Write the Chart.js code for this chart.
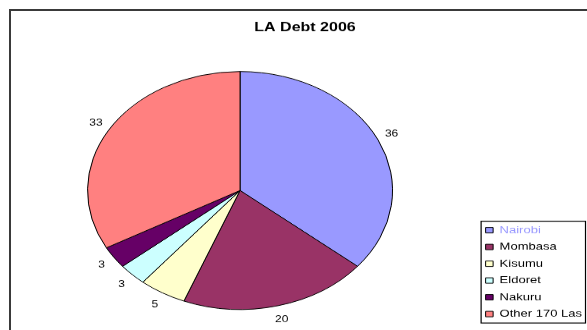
<!DOCTYPE html>
<html>
<head>
<meta charset="utf-8">
<script src="https://cdn.jsdelivr.net/npm/chart.js@4.4.1/dist/chart.umd.min.js"></script>
<style>
  html, body { margin: 0; padding: 0; background: #fff; overflow: hidden; width: 587px; height: 330px; }
  #frame { position: absolute; left: 9px; top: 9px; width: 700px; height: 400px; border: 2px solid #3a3a3a; }
  #wrap { position: absolute; left: 0; top: 0; transform: scaleY(0.78); transform-origin: 0 0; }
</style>
</head>
<body>
<div id="frame"></div>
<div id="wrap"><canvas id="chart" width="607" height="423"></canvas></div>
<script>
const categories = ['Nairobi', 'Mombasa', 'Kisumu', 'Eldoret', 'Nakuru', 'Other 170 Las'];
const debtShares = [36, 20, 5, 3, 3, 33];
const sliceColors = ['#9999FF', '#993366', '#FFFFCC', '#CCFFFF', '#660066', '#FF8080'];

const FONT = '"Liberation Sans", Arial, sans-serif';
Chart.defaults.font.family = FONT;

// value labels just outside each slice
const sliceLabels = {
    id: 'sliceLabels',
    afterDatasetsDraw(chart) {
        const ctx = chart.ctx;
        const meta = chart.getDatasetMeta(0);
        ctx.save();
        ctx.font = '12px ' + FONT;
        ctx.fillStyle = '#000';
        ctx.textAlign = 'center';
        ctx.textBaseline = 'middle';
        meta.data.forEach((arc, i) => {
            const p = arc.getProps(['x', 'y', 'startAngle', 'endAngle', 'outerRadius'], true);
            const mid = (p.startAngle + p.endAngle) / 2;
            const lx = p.x + Math.cos(mid) * (p.outerRadius + 15);
            const ly = p.y + Math.sin(mid) * (p.outerRadius + 18);
            ctx.fillText(String(debtShares[i]), lx, ly);
        });
        ctx.restore();
    }
};

// thin box round the legend entries
const legendFrame = {
    id: 'legendFrame',
    afterDraw(chart) {
        const boxes = chart.legend.legendHitBoxes;
        if (!boxes || !boxes.length) return;
        const first = boxes[0];
        const last = boxes[boxes.length - 1];
        const widest = Math.max(...boxes.map(b => b.width));
        const ctx = chart.ctx;
        ctx.save();
        ctx.strokeStyle = '#000';
        ctx.lineWidth = 1.2;
        ctx.strokeRect(first.left - 4.5, first.top - 5, widest + 8, last.top + last.height - first.top + 10);
        ctx.restore();
    }
};

const baseLabels = Chart.overrides.doughnut.plugins.legend.labels.generateLabels;

new Chart(document.getElementById('chart'), {
    type: 'pie',
    data: {
        labels: categories,
        datasets: [{
            data: debtShares,
            backgroundColor: sliceColors,
            borderColor: '#000',
            borderWidth: 1,
            radius: 152.5
        }]
    },
    plugins: [sliceLabels, legendFrame],
    options: {
        responsive: false,
        animation: false,
        devicePixelRatio: 1,
        layout: { padding: { left: 3, right: 0, top: 0, bottom: 5.4 } },
        plugins: {
            title: {
                display: true,
                text: 'LA Debt 2006',
                color: '#000',
                font: { family: FONT, size: 16, weight: 'bold', lineHeight: 1.2 },
                padding: { top: 25.7, bottom: 25.9 }
            },
            subtitle: {
                // empty spacer on the right so the title sits where it does in the original
                display: true,
                position: 'right',
                text: '',
                font: { size: 10, lineHeight: 1 },
                padding: { top: 2.5, bottom: 2.5 }
            },
            legend: {
                position: 'right',
                align: 'end',
                labels: {
                    boxWidth: 7.5,
                    boxHeight: 7,
                    padding: 8.5,
                    color: '#000',
                    font: { family: FONT, size: 13 },
                    generateLabels(chart) {
                        const items = baseLabels(chart);
                        items[0].fontColor = '#9999FF';
                        return items;
                    }
                }
            },
            tooltip: { enabled: false }
        }
    }
});
</script>
</body>
</html>
